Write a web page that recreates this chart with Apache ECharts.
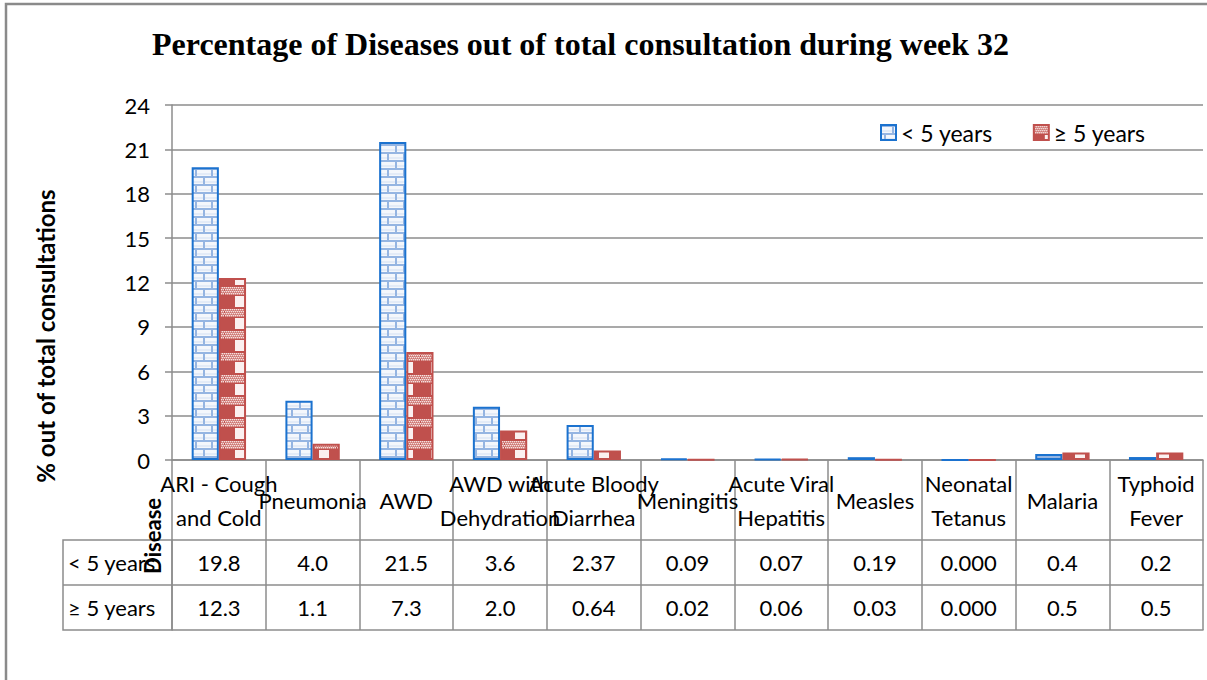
<!DOCTYPE html>
<html>
<head>
<meta charset="utf-8">
<script src="https://cdn.jsdelivr.net/npm/echarts@6/dist/echarts.min.js"></script>
<style>
html,body{margin:0;padding:0;background:#fff;}
#chart{width:1207px;height:680px;}
</style>
</head>
<body>
<div id="chart"></div>
<script>
// ---- data ----
var categories = ['ARI - Cough\nand Cold', 'Pneumonia', 'AWD', 'AWD with\nDehydration', 'Acute Bloody\nDiarrhea', 'Meningitis', 'Acute Viral\nHepatitis', 'Measles', 'Neonatal\nTetanus', 'Malaria', 'Typhoid\nFever'];
var under5 = [19.8, 4.0, 21.5, 3.6, 2.37, 0.09, 0.07, 0.19, 0.000, 0.4, 0.2];
var over5 = [12.3, 1.1, 7.3, 2.0, 0.64, 0.02, 0.06, 0.03, 0.000, 0.5, 0.5];
var under5Labels = ['19.8', '4.0', '21.5', '3.6', '2.37', '0.09', '0.07', '0.19', '0.000', '0.4', '0.2'];
var over5Labels = ['12.3', '1.1', '7.3', '2.0', '0.64', '0.02', '0.06', '0.03', '0.000', '0.5', '0.5'];
var seriesNames = ['< 5 years', '\u2265 5 years'];
var yTicks = [0, 3, 6, 9, 12, 15, 18, 21, 24];

// ---- patterns ----
function brickPattern() {
  var c = document.createElement('canvas');
  c.width = 16; c.height = 16;
  var g = c.getContext('2d');
  g.fillStyle = '#f4f7fc'; g.fillRect(0, 0, 16, 16);
  g.fillStyle = '#e3ebf7'; g.fillRect(0, 5, 16, 2); g.fillRect(0, 13, 16, 2);
  g.fillStyle = '#95b5e2';
  g.fillRect(0, 0, 16, 2);
  g.fillRect(0, 8, 16, 2);
  g.fillRect(11, 0, 2, 8);
  g.fillRect(3, 8, 2, 8);
  return c.toDataURL();
}
function checkPattern() {
  var c = document.createElement('canvas');
  c.width = 28; c.height = 22;
  var g = c.getContext('2d');
  g.fillStyle = '#c0504d'; g.fillRect(0, 0, 28, 22);
  for (var y = 1; y < 9; y += 2) {
    for (var x = (y % 4 === 1 ? 0 : 1); x < 28; x += 2) {
      g.fillStyle = '#f5e1e0'; g.fillRect(x, y, 1.5, 1.5);
    }
  }
  g.fillStyle = '#fbf0f0'; g.fillRect(11, 10, 10, 11);
  return c.toDataURL();
}

var gray = '#8c8c8c';
var font = 'Lato, "Noto Sans", sans-serif';
var chart = echarts.init(document.getElementById('chart'), null, {renderer: 'svg'});

function valueRowAxis(offset, labels, show) {
  return {
    type: 'category', data: categories, gridIndex: 0, position: 'bottom', offset: offset,
    axisLine: {show: true, lineStyle: {color: gray, width: 1.5}},
    axisTick: {show: false},
    axisLabel: {show: show, interval: 0, margin: 22, verticalAlign: 'middle', fontSize: 22, color: '#000', fontFamily: font,
      formatter: function (v, i) { return labels[i]; }},
    splitLine: {show: false}
  };
}

var option = {
  backgroundColor: '#fff',
  animation: false,
  title: {
    text: 'Percentage of Diseases out of total consultation during week 32',
    left: 147, top: 23,
    textStyle: {fontFamily: '"Liberation Serif", "Times New Roman", serif', fontWeight: 'bold', fontSize: 32, color: '#000'}
  },
  legend: {
    left: 875, top: 116, itemWidth: 15, itemHeight: 15, itemGap: 40,
    icon: 'rect',
    textStyle: {fontSize: 23, color: '#000', fontFamily: font},
    data: seriesNames
  },
  grid: {left: 172, right: 4, top: 105, bottom: 220, containLabel: false},
  xAxis: [
    {
      type: 'category', data: categories, gridIndex: 0, position: 'bottom',
      axisLine: {show: true, lineStyle: {color: gray, width: 1.5}},
      axisTick: {show: true, interval: 0, length: 170, inside: false, lineStyle: {color: gray, width: 1.5}},
      axisLabel: {interval: 0, margin: 40, verticalAlign: 'middle', fontSize: 22, lineHeight: 34, color: '#000', fontFamily: font, hideOverlap: false},
      splitLine: {show: false}
    },
    valueRowAxis(80, under5Labels, true),
    valueRowAxis(125, over5Labels, true),
    valueRowAxis(170, over5Labels, false)
  ],
  yAxis: {
    type: 'value', min: yTicks[0], max: yTicks[yTicks.length - 1], interval: 3,
    axisLine: {show: true, lineStyle: {color: gray, width: 1.5}},
    axisTick: {show: true, length: 7, lineStyle: {color: gray, width: 1.5}},
    axisLabel: {fontSize: 22, color: '#000', fontFamily: font, margin: 22},
    splitLine: {show: true, lineStyle: {color: gray, width: 1.5}}
  },
  series: [
    {
      name: seriesNames[0], type: 'bar', data: under5, barGap: '0%', barCategoryGap: '42%',
      itemStyle: {color: {image: brickPattern(), repeat: 'repeat'}, borderColor: '#1b72cf', borderWidth: 2}
    },
    {
      name: seriesNames[1], type: 'bar', data: over5, barGap: '0%', barCategoryGap: '42%',
      itemStyle: {color: {image: checkPattern(), repeat: 'repeat'}, borderColor: '#c0504d', borderWidth: 2}
    }
  ],
  graphic: [
    {type: 'rect', silent: true, shape: {x: 6, y: 4, width: 1220, height: 700}, style: {fill: null, stroke: '#8a8a8a', lineWidth: 2.5}},
    {type: 'rect', silent: true, shape: {x: 63, y: 540, width: 109, height: 90}, style: {fill: null, stroke: gray, lineWidth: 1.5}},
    {type: 'line', silent: true, shape: {x1: 63, y1: 585, x2: 172, y2: 585}, style: {stroke: gray, lineWidth: 1.5}},
    {type: 'text', silent: true, x: 68, y: 562, style: {text: seriesNames[0], fontSize: 22, fontFamily: font, fill: '#000', verticalAlign: 'middle', align: 'left'}},
    {type: 'text', silent: true, x: 68, y: 607, style: {text: seriesNames[1], fontSize: 22, fontFamily: font, fill: '#000', verticalAlign: 'middle', align: 'left'}},
    {type: 'text', silent: true, x: 152, y: 536, rotation: Math.PI / 2, style: {text: 'Disease', fontSize: 22, fontWeight: 'bold', fontFamily: font, fill: '#000', verticalAlign: 'middle', align: 'center'}},
    {type: 'text', silent: true, x: 45, y: 336, rotation: Math.PI / 2, style: {text: '% out of total consultations', fontSize: 24, fontWeight: 'bold', fontFamily: font, fill: '#000', verticalAlign: 'middle', align: 'center'}}
  ]
};
chart.setOption(option);
</script>
</body>
</html>
